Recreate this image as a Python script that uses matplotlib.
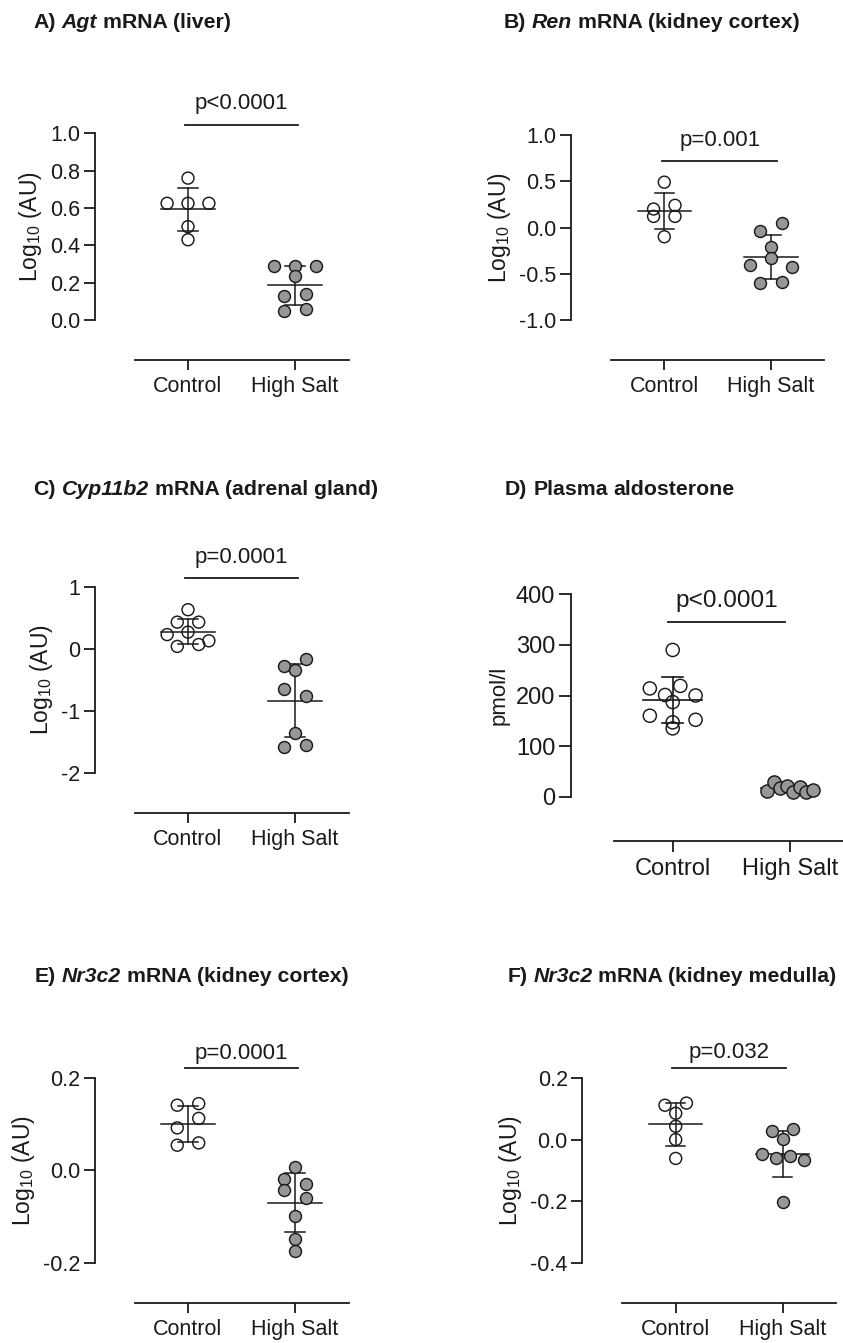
import numpy as np
import matplotlib
matplotlib.use('Agg')
import matplotlib.pyplot as plt

plt.rcParams['font.family'] = ['Liberation Sans', 'DejaVu Sans']
plt.rcParams['mathtext.fontset'] = 'custom'
plt.rcParams['mathtext.rm'] = 'Liberation Sans'
plt.rcParams['mathtext.it'] = 'Liberation Sans:italic'
plt.rcParams['mathtext.bf'] = 'Liberation Sans:bold'
plt.rcParams['axes.unicode_minus'] = False

W, H, DPI = 843, 1343, 100
PT = 72 / DPI  # points per pixel

INK = '#1a1a1a'
GREY = '#979797'

groups = ['Control', 'High Salt']

# A) Agt mRNA (liver), log10 AU
agt_ctrl = [0.76, 0.625, 0.625, 0.625, 0.50, 0.43]
agt_salt = [0.29, 0.29, 0.29, 0.235, 0.13, 0.14, 0.05, 0.06]
# B) Ren mRNA (kidney cortex)
ren_ctrl = [0.49, 0.20, 0.24, 0.12, 0.12, -0.10]
ren_salt = [-0.035, 0.045, -0.21, -0.40, -0.33, -0.43, -0.60, -0.59]
# C) Cyp11b2 mRNA (adrenal gland)
cyp_ctrl = [0.63, 0.43, 0.43, 0.23, 0.27, 0.13, 0.04, 0.07]
cyp_salt = [-0.27, -0.16, -0.34, -0.64, -0.76, -1.36, -1.58, -1.55]
# D) plasma aldosterone, pmol/l
aldo_ctrl = [290, 214, 201, 219, 200, 187, 160, 147, 152, 135]
aldo_salt = [12, 30, 17, 21, 10, 20, 10, 13]
# E) Nr3c2 mRNA (kidney cortex)
nr_cx_ctrl = [0.1405, 0.144, 0.0915, 0.112, 0.054, 0.059]
nr_cx_salt = [0.007, -0.018, -0.029, -0.042, -0.060, -0.099, -0.148, -0.174]
# F) Nr3c2 mRNA (kidney medulla)
nr_md_ctrl = [0.111, 0.118, 0.085, 0.043, 0.0, -0.061]
nr_md_salt = [0.028, 0.035, 0.001, -0.048, -0.059, -0.054, -0.067, -0.201]

p_labels = ['p<0.0001', 'p=0.001', 'p=0.0001', 'p<0.0001', 'p=0.0001', 'p=0.032']

titles = [
    [('A)', 'normal'), ('Agt', 'italic'), ('mRNA (liver)', 'normal')],
    [('B)', 'normal'), ('Ren', 'italic'), ('mRNA (kidney cortex)', 'normal')],
    [('C)', 'normal'), ('Cyp11b2', 'italic'), ('mRNA (adrenal gland)', 'normal')],
    [('D)', 'normal'), ('Plasma', 'normal'), ('aldosterone', 'normal')],
    [('E)', 'normal'), ('Nr3c2', 'italic'), ('mRNA (kidney cortex)', 'normal')],
    [('F)', 'normal'), ('Nr3c2', 'italic'), ('mRNA (kidney medulla)', 'normal')],
]

log_label = 'Log$_{10}$ (AU)'
ylabels = [log_label, log_label, log_label, 'pmol/l', log_label, log_label]

yticks = [
    [0.0, 0.2, 0.4, 0.6, 0.8, 1.0],
    [-1.0, -0.5, 0.0, 0.5, 1.0],
    [-2, -1, 0, 1],
    [0, 100, 200, 300, 400],
    [-0.2, 0.0, 0.2],
    [-0.4, -0.2, 0.0, 0.2],
]
ytick_labels = [
    ['0.0', '0.2', '0.4', '0.6', '0.8', '1.0'],
    ['-1.0', '-0.5', '0.0', '0.5', '1.0'],
    ['-2', '-1', '0', '1'],
    ['0', '100', '200', '300', '400'],
    ['-0.2', '0.0', '0.2'],
    ['-0.4', '-0.2', '0.0', '0.2'],
]

data = [(agt_ctrl, agt_salt), (ren_ctrl, ren_salt), (cyp_ctrl, cyp_salt),
        (aldo_ctrl, aldo_salt), (nr_cx_ctrl, nr_cx_salt), (nr_md_ctrl, nr_md_salt)]

# panel geometry in pixels (y measured from the top of the figure)
layout = [
    dict(yax=95, ctrl=188, salt=295, top=133.3, bot=320, xline=360, bar=1.044, ptxt=1.129,
         bar_x=(-0.03, 1.03), title=(33.3, 28.3), s=1.0),
    dict(yax=570.7, ctrl=664.3, salt=771, top=135, bot=320, xline=360, bar=0.859, ptxt=0.942,
         bar_x=(-0.02, 1.06), title=(503.3, 28.3), s=1.0),
    dict(yax=95, ctrl=188, salt=295, top=586.7, bot=773.3, xline=813.3, bar=1.048, ptxt=1.125,
         bar_x=(-0.03, 1.03), title=(33.3, 495), s=1.0),
    dict(yax=570.7, ctrl=672.7, salt=790, top=594.3, bot=796.7, xline=841, bar=0.865, ptxt=0.939,
         bar_x=(-0.04, 0.96), title=(505, 495), s=1.1),
    dict(yax=95, ctrl=188, salt=295, top=1077.7, bot=1262.7, xline=1302.7, bar=1.054, ptxt=1.099,
         bar_x=(-0.03, 1.03), title=(35, 981.7), s=1.0),
    dict(yax=582.3, ctrl=675.7, salt=782.7, top=1077.7, bot=1263.3, xline=1303.3, bar=1.054, ptxt=1.105,
         bar_x=(-0.035, 1.03), title=(507.3, 981.7), s=1.0),
]

FS = 15.5
TITLE_FS = 15.3


def swarm(vals, px_per_y, d, wmax):
    """Pixel offsets: points closer than a marker in y share a row and are spread sideways."""
    vals = np.asarray(vals, dtype=float)
    y = vals * px_per_y
    rows = []
    for i in np.argsort(-vals, kind='stable'):
        if rows and y[rows[-1][0]] - y[i] <= 0.75 * d:
            rows[-1].append(i)
        else:
            rows.append([i])
    res = np.zeros(len(vals))
    for row in rows:
        row = sorted(row)
        n = len(row)
        if n > 1:
            step = min(1.65 * d, wmax / (n - 1))
            for j, i in enumerate(row):
                res[i] = (j - (n - 1) / 2) * step
    return res


fig = plt.figure(figsize=(W / DPI, H / DPI), dpi=DPI)
renderer = fig.canvas.get_renderer()

for k, p in enumerate(layout):
    s = p['s']
    ylim = (yticks[k][0], yticks[k][-1])
    ux = p['salt'] - p['ctrl']
    x0 = (p['yax'] - p['ctrl']) / ux
    x1 = 1.5
    ax_h = p['bot'] - p['top']
    ax = fig.add_axes([p['yax'] / W, 1 - p['bot'] / H, (x1 - x0) * ux / W, ax_h / H])
    ax.set_xlim(x0, x1)
    ax.set_ylim(*ylim)
    ax.patch.set_alpha(0)

    for side in ('top', 'right'):
        ax.spines[side].set_visible(False)
    for side in ('left', 'bottom'):
        ax.spines[side].set_linewidth(1.3)
        ax.spines[side].set_color(INK)
    ax.spines['bottom'].set_position(('outward', (p['xline'] - p['bot']) * PT))
    ax.spines['bottom'].set_bounds(-0.5, 1.5)

    ax.set_yticks(yticks[k])
    ax.set_yticklabels(ytick_labels[k])
    ax.set_xticks([0, 1])
    ax.set_xticklabels(groups)
    ax.tick_params(axis='y', length=8 * s, width=1.3, pad=2.4, labelsize=FS * s, colors=INK)
    ax.tick_params(axis='x', length=7.5 * s, width=1.3, pad=4, labelsize=FS * s, colors=INK)
    ax.set_ylabel(ylabels[k], fontsize=16.5 if s == 1.0 else 16, labelpad=4.5, color=INK)

    px_per_y = ax_h / (ylim[1] - ylim[0])
    d = 13.0 * s
    for g, vals in enumerate(data[k]):
        vals = np.asarray(vals, dtype=float)
        xs = g + swarm(vals, px_per_y, d, 0.39 * ux) / ux
        m = vals.mean()
        sd = vals.std(ddof=1)
        lw = 1.1 * s
        # mean with SD whiskers
        ax.plot([g - 0.25, g + 0.25], [m, m], color=INK, lw=lw, zorder=2)
        ax.plot([g, g], [m - sd, m + sd], color=INK, lw=lw, zorder=2)
        for yy in (m - sd, m + sd):
            ax.plot([g - 0.09, g + 0.09], [yy, yy], color=INK, lw=lw, zorder=2)
        face = 'none' if g == 0 else GREY
        ax.scatter(xs, vals, s=(8.6 * s) ** 2, facecolors=face, edgecolors=INK,
                   linewidths=1.05, zorder=3, clip_on=False)

    # significance bar and p value
    tr = ax.get_xaxis_transform()
    ax.plot(p['bar_x'], [p['bar'], p['bar']], color=INK, lw=1.3, transform=tr, clip_on=False)
    ax.text(np.mean(p['bar_x']), p['ptxt'], p_labels[k], transform=tr, ha='center',
            va='baseline', fontsize=16 * (1.1 if s > 1 else 1.0), color=INK)

    # panel title with italic gene symbol
    tx, ty = p['title']
    gap = 0.278 * TITLE_FS / PT
    for txt, style in titles[k]:
        t = fig.text(tx / W, 1 - ty / H, txt, fontsize=TITLE_FS, fontweight='bold',
                     style=style, ha='left', va='baseline', color=INK)
        tx += t.get_window_extent(renderer=renderer).width + gap

fig.savefig('out.png', dpi=DPI)
